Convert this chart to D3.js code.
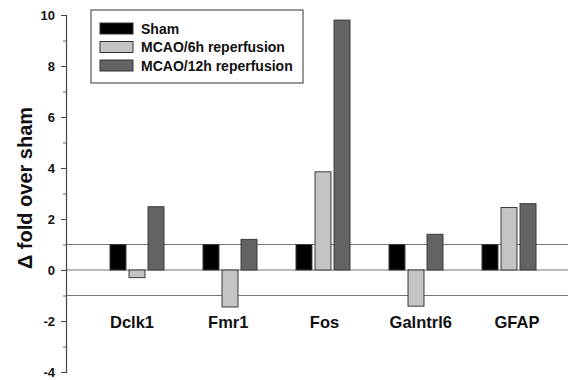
<!DOCTYPE html>
<html>
<head>
<meta charset="utf-8">
<script src="https://cdn.jsdelivr.net/npm/d3@7"></script>
<style>
  body { margin: 0; background: #fff; }
  text { font-family: "Liberation Sans", Arial, sans-serif; font-weight: bold; fill: #111; }
</style>
</head>
<body>
<div id="chart"></div>
<script>
  let genes = ['Dclk1', 'Fmr1', 'Fos', 'Galntrl6', 'GFAP'];
  let series = ['Sham', 'MCAO/6h reperfusion', 'MCAO/12h reperfusion'];
  let sham = [1, 1, 1, 1, 1];
  let mcao6h = [-0.3, -1.45, 3.85, -1.42, 2.45];
  let mcao12h = [2.48, 1.2, 9.8, 1.4, 2.6];
  let refLines = [1, 0, -1];
  let yTicks = [-4, -2, 0, 2, 4, 6, 8, 10];
  let colors = ['#000000', '#c4c4c4', '#636363'];

  let values = [sham, mcao6h, mcao12h];
  let width = 570;
  let height = 380;
  let svg = d3.select('#chart')
    .append('svg:svg')
    .attr('width', width)
    .attr('height', height);

  let y = d3.scaleLinear().domain([-4, 10]).range([372, 15]);
  let x0 = d3.scaleBand().domain(genes).range([89, 554]);
  let x1 = d3.scaleBand().domain(series).range([21, 75]).paddingInner(0.16);
  let xLabel = d3.scalePoint().domain(genes).range([132, 517]);

  // reference lines
  svg.selectAll('.ref')
    .data(refLines)
    .enter().append('line')
    .attr('x1', 66).attr('x2', 568)
    .attr('y1', d => y(d)).attr('y2', d => y(d))
    .attr('stroke', '#777').attr('stroke-width', 1.2);

  // bars
  series.forEach((s, i) => {
    svg.selectAll('.bar' + i)
      .data(genes)
      .enter().append('rect')
      .attr('x', g => x0(g) + x1(s))
      .attr('width', x1.bandwidth())
      .attr('y', (g, j) => y(Math.max(0, values[i][j])))
      .attr('height', (g, j) => Math.abs(y(values[i][j]) - y(0)))
      .attr('fill', colors[i])
      .attr('stroke', '#3a3a3a')
      .attr('stroke-width', 1);
  });

  // y axis
  let axis = d3.axisLeft(y).tickValues(yTicks).tickSize(5).tickPadding(6)
    .tickFormat(d => String(d));
  let ga = svg.append('g').attr('transform', 'translate(66,0)').call(axis);
  ga.select('.domain').attr('stroke', '#444').attr('stroke-width', 1.2);
  ga.selectAll('.tick line').attr('stroke', '#444');
  ga.selectAll('.tick text').style('font-size', '13px').attr('fill', '#111');
  let minor = d3.axisLeft(y).tickValues(d3.range(-3, 10, 2)).tickSize(3).tickFormat('');
  let gm = svg.append('g').attr('transform', 'translate(66,0)').call(minor);
  gm.select('.domain').remove();
  gm.selectAll('.tick line').attr('stroke', '#666');

  // category labels
  svg.selectAll('.cat')
    .data(genes)
    .enter().append('text')
    .attr('x', g => xLabel(g))
    .attr('y', 328)
    .attr('text-anchor', 'middle')
    .style('font-size', '16.5px')
    .text(g => g);

  // y label
  svg.append('text')
    .attr('transform', 'translate(32,188) rotate(-90)')
    .attr('text-anchor', 'middle')
    .style('font-size', '20px')
    .text('\u0394 fold over sham');

  // legend
  let lg = svg.append('g');
  lg.append('rect')
    .attr('x', 91).attr('y', 10).attr('width', 212).attr('height', 73)
    .attr('fill', '#fff').attr('stroke', '#555').attr('stroke-width', 1.2);
  series.forEach((s, i) => {
    lg.append('rect')
      .attr('x', 100).attr('y', 23 + i * 18.5).attr('width', 33).attr('height', 11)
      .attr('fill', colors[i]).attr('stroke', '#333');
    lg.append('text')
      .attr('x', 141).attr('y', 33.5 + i * 18.5)
      .style('font-size', '14px')
      .text(s);
  });
</script>
</body>
</html>
